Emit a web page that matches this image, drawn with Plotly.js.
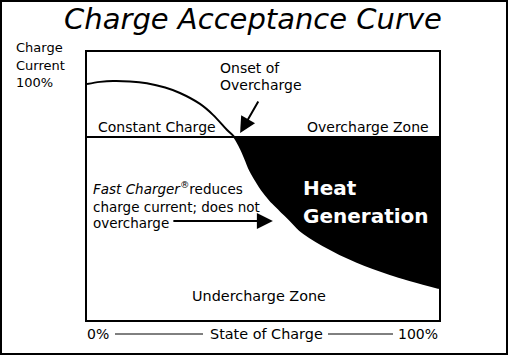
<!DOCTYPE html>
<html>
<head>
<meta charset="utf-8">
<script src="https://cdn.plot.ly/plotly-3.0.1.min.js"></script>
<style>
  html, body { margin: 0; padding: 0; background: #fff; }
  #wrap { position: relative; width: 509px; height: 356px; }
  #frame { position: absolute; left: 0; top: 0; width: 508px; height: 355px; box-sizing: border-box; border: 2px solid #000; pointer-events: none; }
</style>
</head>
<body>
<div id="wrap"><div id="chart"></div><div id="frame"></div></div>
<script>
// State of charge (%) along the curve
const stateOfCharge = [0, 3.7, 7.4, 12.2, 17, 22.2, 26.4, 32.1, 35.8, 39.8, 41.8, 43.9, 45.1, 46.3, 47.9, 49.7, 52, 54.8, 57.7, 60.5, 67, 76.7, 86.1, 100];
// Charge current accepted (% relative units)
const chargeCurrent = [99.5, 100.4, 100.8, 100.6, 99.8, 98, 95.7, 91.1, 86.5, 80.1, 77.2, 71.7, 67.5, 63.2, 59, 54.8, 50.6, 46.4, 42.2, 37.9, 31.6, 24.5, 19.4, 13.5];
// Constant charge level (same units)
const constantChargeLevel = 77.2;
const xRange = [0, 100];
const yRange = [0, 113];

// Heat-generation region: between constant-charge line and the curve, after the crossing
const k = chargeCurrent.findIndex(v => v <= constantChargeLevel);
const segX = stateOfCharge.slice(k);
const segY = chargeCurrent.slice(k);
const lineSegX = [segX[0], segX[segX.length - 1]];
const lineSegY = [constantChargeLevel, constantChargeLevel];

const W = 509, H = 356;
const M = { l: 87, r: 70, t: 52, b: 36 };
const PW = W - M.l - M.r, PH = H - M.t - M.b;
const xp = px => (px - M.l) / PW;
const yp = py => (H - M.b - py) / PH;

const FONT = 'DejaVu Sans, Verdana, sans-serif';
function lab(text, px, py, size, anchor, extra) {
  return Object.assign({
    text: text, xref: 'paper', yref: 'paper', x: xp(px), y: yp(py),
    xanchor: anchor || 'left', yanchor: 'middle', showarrow: false,
    font: { family: FONT, size: size, color: '#000' }
  }, extra || {});
}

const traces = [
  { x: lineSegX, y: lineSegY, mode: 'lines', line: { width: 0, color: '#000' },
    hoverinfo: 'skip', showlegend: false },
  { x: segX, y: segY, mode: 'lines', fill: 'tonexty', fillcolor: '#000',
    line: { width: 0, color: '#000', shape: 'spline', smoothing: 1 }, hoverinfo: 'skip', showlegend: false },
  { x: xRange, y: [constantChargeLevel, constantChargeLevel], mode: 'lines',
    line: { color: '#000', width: 2 }, hoverinfo: 'skip', showlegend: false },
  { x: stateOfCharge, y: chargeCurrent, mode: 'lines',
    line: { color: '#000', width: 2, shape: 'spline', smoothing: 1 }, hoverinfo: 'skip', showlegend: false }
];

const annotations = [
  lab('Charge', 14, 48, 13),
  lab('Current', 14, 65, 13),
  lab('100%', 14, 83, 13),
  lab('Onset of', 218, 68, 14),
  lab('Overcharge', 218, 85, 14),
  lab('Constant Charge', 96, 127, 14),
  lab('Overcharge Zone', 305, 127, 14),
  lab('<b>Heat</b>', 301, 188, 20, 'left', { font: { family: FONT, size: 20, color: '#fff' } }),
  lab('<b>Generation</b>', 301, 216, 20, 'left', { font: { family: FONT, size: 20, color: '#fff' } }),
  lab('<i>Fast Charger</i><sup>®</sup>reduces', 91, 188, 13.5),
  lab('charge current; does not', 91, 207, 13.5),
  lab('overcharge', 91, 223, 13.5),
  lab('Undercharge Zone', 258.5, 296, 14.4, 'center'),
  lab('0%', 85, 334, 14),
  lab('State of Charge', 266.5, 334, 14.4, 'center'),
  lab('100%', 440, 334, 14, 'right'),
  // Onset of overcharge arrow
  { text: '', x: 43.5, y: 78.8, xref: 'x', yref: 'y', showarrow: true, ax: 19, ay: -33,
    arrowhead: 2, arrowsize: 1.6, arrowwidth: 2, arrowcolor: '#000', standoff: 0 },
  // Fast Charger arrow
  { text: '', x: 52.8, y: 41.7, xref: 'x', yref: 'y', showarrow: true, ax: -101, ay: 0,
    arrowhead: 2, arrowsize: 1.6, arrowwidth: 2, arrowcolor: '#000', standoff: 0 }
];

const shapes = [
  { type: 'line', xref: 'paper', yref: 'paper', x0: xp(115), x1: xp(203), y0: yp(334), y1: yp(334), line: { color: '#000', width: 1 } },
  { type: 'line', xref: 'paper', yref: 'paper', x0: xp(328), x1: xp(393), y0: yp(334), y1: yp(334), line: { color: '#000', width: 1 } }
];

const layout = {
  width: W, height: H,
  margin: M,
  paper_bgcolor: '#fff', plot_bgcolor: '#fff',
  showlegend: false,
  title: { text: '<i>Charge Acceptance Curve</i>', font: { family: FONT, size: 29, color: '#000' },
           x: 253 / W, xanchor: 'center', xref: 'container', y: 1 - 19 / H, yanchor: 'middle', yref: 'container' },
  xaxis: { range: xRange, showgrid: false, zeroline: false, showticklabels: false, ticks: '',
           showline: true, mirror: true, linecolor: '#000', linewidth: 2, fixedrange: true },
  yaxis: { range: yRange, showgrid: false, zeroline: false, showticklabels: false, ticks: '',
           showline: true, mirror: true, linecolor: '#000', linewidth: 2, fixedrange: true },
  annotations: annotations,
  shapes: shapes
};

Plotly.newPlot('chart', traces, layout, { staticPlot: true, displayModeBar: false });
</script>
</body>
</html>
